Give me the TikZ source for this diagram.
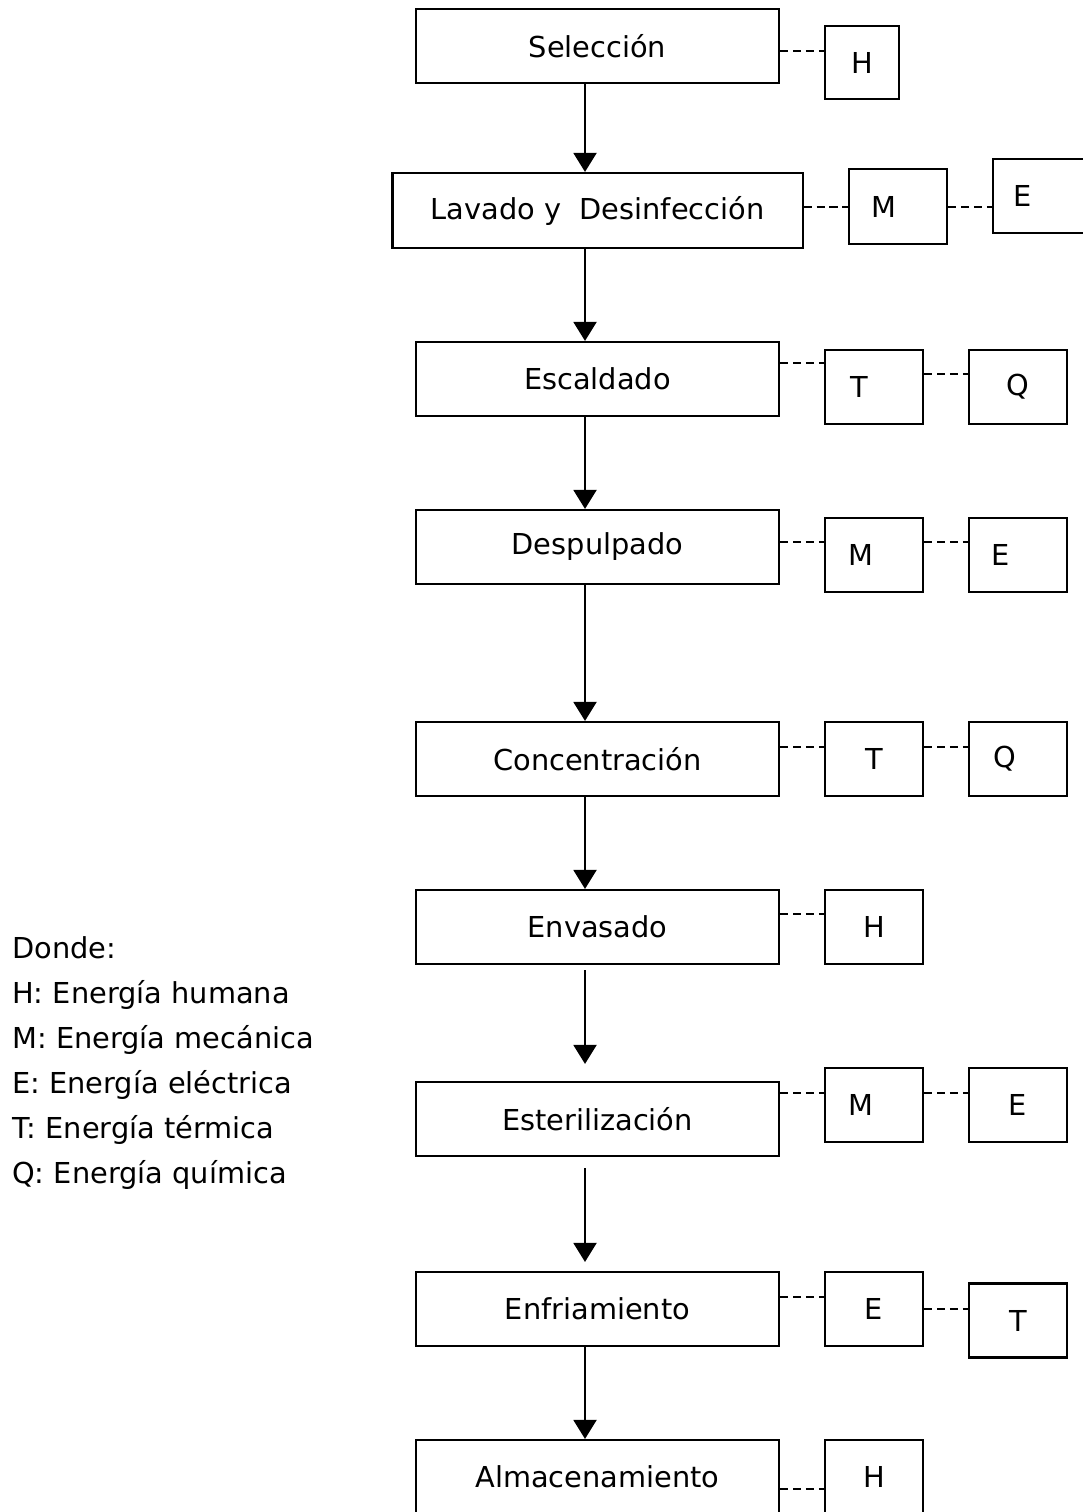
\documentclass[tikz,border=0pt]{standalone}
\usepackage{fontspec}
\setmainfont{DejaVu Sans}
\usetikzlibrary{arrows.meta}
\tikzset{
  stage/.style={draw, line width=1.5pt, minimum width=9.075cm, minimum height=1.85cm, inner sep=0pt},
  energy/.style={draw, line width=1.5pt, minimum width=2.45cm, minimum height=1.85cm, inner sep=0pt},
  flow/.style={-{Triangle[length=0.475cm,width=0.575cm]}, line width=1.4pt},
  link/.style={line width=1.4pt, dash pattern=on 5.7pt off 3.5pt},
  lean/.style={execute at end node={\hspace*{#1}}}
}
\begin{document}
\begin{tikzpicture}[x=0.025cm, y=-0.025cm, font=\fontsize{20.5}{24}\selectfont]
 \useasboundingbox (0,0) rectangle (1083,1512);
 % etapas del proceso
 \node[stage] (sel) at (597.5,46) {Selección};
 \node[stage, minimum width=10.25cm, minimum height=1.875cm] (lav) at (597.5,210.5) {Lavado y\ \ Desinfección};
 \node[stage] (esc) at (597.5,379) {Escaldado};
 \node[stage] (des) at (597.5,547) {Despulpado};
 \node[stage] (con) at (597.5,759) {Concentración};
 \node[stage] (env) at (597.5,927) {Envasado};
 \node[stage] (est) at (597.5,1119) {Esterilización};
 \node[stage] (enf) at (597.5,1309) {Enfriamiento};
 \node[stage] (alm) at (597.5,1477) {Almacenamiento};
 % tipos de energia
 \node[energy, minimum width=1.85cm, minimum height=1.825cm] (hA) at (862,62.5) {H};
 \node[energy, minimum height=1.875cm, lean=0.7cm] (mB) at (898,206.5) {M};
 \node[energy, lean=0.95cm] (eB) at (1042,196) {E};
 \node[energy, lean=0.75cm] (tC) at (874,387) {T};
 \node[energy] (qC) at (1018,387) {Q};
 \node[energy, lean=0.65cm] (mD) at (874,555) {M};
 \node[energy, lean=0.85cm] (eD) at (1018,555) {E};
 \node[energy] (tE) at (874,759) {T};
 \node[energy, lean=0.65cm] (qE) at (1018,759) {Q};
 \node[energy] (hF) at (874,927) {H};
 \node[energy, lean=0.65cm] (mG) at (874,1105) {M};
 \node[energy] (eG) at (1018,1105) {E};
 \node[energy] (eH) at (874,1309) {E};
 \node[energy] (tH) at (1018,1320.5) {T};
 \node[energy] (hI) at (874,1477) {H};
 % flujo
 \draw[flow] (sel.south -| 585,0) -- (lav.north -| 585,0);
 \draw[flow] (lav.south -| 585,0) -- (esc.north -| 585,0);
 \draw[flow] (esc.south -| 585,0) -- (des.north -| 585,0);
 \draw[flow] (des.south -| 585,0) -- (con.north -| 585,0);
 \draw[flow] (con.south -| 585,0) -- (env.north -| 585,0);
 \draw[flow, shorten <=0.125cm, shorten >=0.425cm] (env.south -| 585,0) -- (est.north -| 585,0);
 \draw[flow, shorten <=0.275cm, shorten >=0.225cm] (est.south -| 585,0) -- (enf.north -| 585,0);
 \draw[flow] (enf.south -| 585,0) -- (alm.north -| 585,0);
 % uniones
 \draw[link] (sel.east |- 0,51) -- (hA.west |- 0,51);
 \draw[link] (lav.east |- 0,207) -- (mB.west |- 0,207);
 \draw[link] (mB.east |- 0,207) -- (eB.west |- 0,207);
 \draw[link] (esc.east |- 0,363) -- (tC.west |- 0,363);
 \draw[link] (tC.east |- 0,374) -- (qC.west |- 0,374);
 \draw[link] (des.east |- 0,542) -- (mD.west |- 0,542);
 \draw[link] (mD.east |- 0,542) -- (eD.west |- 0,542);
 \draw[link] (con.east |- 0,747) -- (tE.west |- 0,747);
 \draw[link] (tE.east |- 0,747) -- (qE.west |- 0,747);
 \draw[link] (env.east |- 0,914) -- (hF.west |- 0,914);
 \draw[link] (est.east |- 0,1093) -- (mG.west |- 0,1093);
 \draw[link] (mG.east |- 0,1093) -- (eG.west |- 0,1093);
 \draw[link] (enf.east |- 0,1297) -- (eH.west |- 0,1297);
 \draw[link] (eH.east |- 0,1309) -- (tH.west |- 0,1309);
 \draw[link] (alm.east |- 0,1489) -- (hI.west |- 0,1489);
 % leyenda
 \node[anchor=base west, inner sep=0pt] (donde) at (12,958) {Donde:};
 \node[anchor=base west, inner sep=0pt] (legH) at (12,1003) {H: Energía humana};
 \node[anchor=base west, inner sep=0pt] (legM) at (12,1048) {M: Energía mecánica};
 \node[anchor=base west, inner sep=0pt] (legE) at (12,1093) {E: Energía eléctrica};
 \node[anchor=base west, inner sep=0pt] (legT) at (12,1138) {T: Energía térmica};
 \node[anchor=base west, inner sep=0pt] (legQ) at (12,1183) {Q: Energía química};
\end{tikzpicture}
\end{document}
